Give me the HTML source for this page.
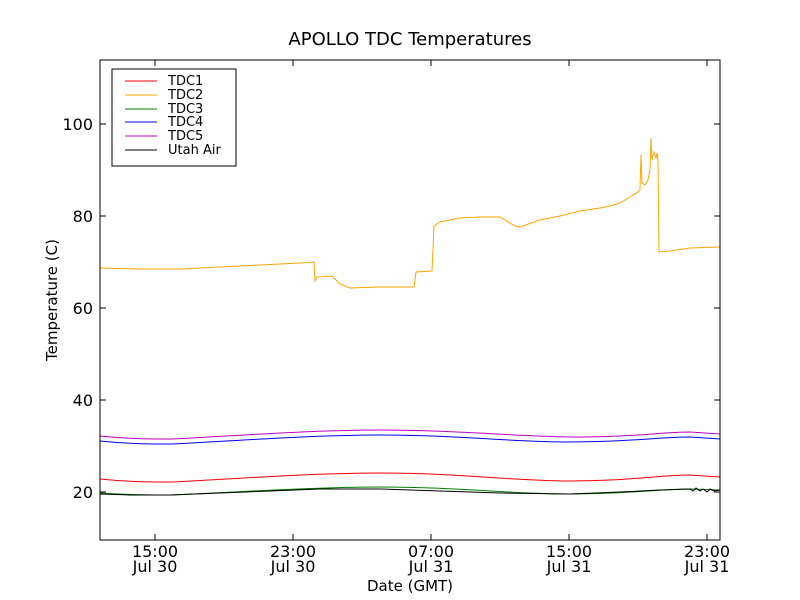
<!DOCTYPE html>
<html><head><style>body{margin:0;background:#fff}svg{display:block}text{font-family:"DejaVu Sans","Liberation Sans",sans-serif}</style></head>
<body>
<svg width="800" height="600" viewBox="0 0 800 600">
<rect width="800" height="600" fill="#fff"/>
<text x="410" y="45" font-size="18" text-anchor="middle">APOLLO TDC Temperatures</text>
<g fill="none" stroke-width="1">
<polyline stroke="#ffa500" points="100,268 140,269 180,269 220,267 260,265 300,263 314,262 315,281 317,277 332,276 340,284 350,288 380,287 414,287 416,272 432,271 434,226 440,222 460,218 480,217 500,217 505,220 515,226 520,227 540,220 560,216 580,211 600,208 610,206 620,203 630,197 638,192 640,190 641,155 642,183 645,185 648,180 650,170 651,138 652,160 654,152 656,158 657,153 658,160 659,252 670,251 690,248 720,247"/>
<path stroke="#bf00bf" d="M100,436 C130,439 150,439 170,439 S300,430 380,430 S520,437 580,437 S660,432 690,432 L720,434"/>
<path stroke="#0000ff" d="M100,441 C130,444 150,444 170,444 S300,435 380,435 S510,442 570,442 S660,437 690,437 L720,439"/>
<path stroke="#ff0000" d="M100,479 C130,482 150,482 170,482 S300,473 380,473 S510,481 570,481 S660,475 690,475 L720,477"/>
<path stroke="#008000" d="M100,493 C130,495 150,495 170,495 S300,487 380,487 S510,494 570,494 S660,489 690,489 L720,490"/>
<polyline stroke="#000" points="100,494 130,495 170,495 220,493 270,491 320,489 380,489 440,491 500,493 570,494 620,492 660,490 690,489 693,491 696,488 700,491 703,489 707,492 710,489 714,491 720,490"/>
</g>
<rect x="100" y="60" width="620" height="480" fill="none" stroke="#000"/>
<g stroke="#000">
<line x1="100" y1="492" x2="106" y2="492"/><line x1="720" y1="492" x2="714" y2="492"/>
<line x1="100" y1="400" x2="106" y2="400"/><line x1="720" y1="400" x2="714" y2="400"/>
<line x1="100" y1="308" x2="106" y2="308"/><line x1="720" y1="308" x2="714" y2="308"/>
<line x1="100" y1="216" x2="106" y2="216"/><line x1="720" y1="216" x2="714" y2="216"/>
<line x1="100" y1="124" x2="106" y2="124"/><line x1="720" y1="124" x2="714" y2="124"/>
<line x1="155" y1="540" x2="155" y2="534"/><line x1="155" y1="60" x2="155" y2="66"/>
<line x1="293" y1="540" x2="293" y2="534"/><line x1="293" y1="60" x2="293" y2="66"/>
<line x1="431" y1="540" x2="431" y2="534"/><line x1="431" y1="60" x2="431" y2="66"/>
<line x1="569" y1="540" x2="569" y2="534"/><line x1="569" y1="60" x2="569" y2="66"/>
<line x1="707" y1="540" x2="707" y2="534"/><line x1="707" y1="60" x2="707" y2="66"/>
</g>
<g font-size="16" text-anchor="end">
<text x="93" y="498">20</text><text x="93" y="406">40</text><text x="93" y="314">60</text><text x="93" y="222">80</text><text x="93" y="130">100</text>
</g>
<g font-size="16" text-anchor="middle">
<text x="155" y="557">15:00</text><text x="155" y="572">Jul 30</text>
<text x="293" y="557">23:00</text><text x="293" y="572">Jul 30</text>
<text x="431" y="557">07:00</text><text x="431" y="572">Jul 31</text>
<text x="569" y="557">15:00</text><text x="569" y="572">Jul 31</text>
<text x="707" y="557">23:00</text><text x="707" y="572">Jul 31</text>
</g>
<g font-size="15" text-anchor="middle">
<text x="410" y="591">Date (GMT)</text>
<text x="0" y="0" transform="translate(57,300) rotate(-90)">Temperature (C)</text>
</g>
<rect x="112" y="69" width="124" height="97" fill="#fff" stroke="#000"/>
<g stroke-width="1">
<line x1="125" y1="81" x2="157" y2="81" stroke="#ff0000"/>
<line x1="125" y1="95" x2="157" y2="95" stroke="#ffa500"/>
<line x1="125" y1="109" x2="157" y2="109" stroke="#008000"/>
<line x1="125" y1="122" x2="157" y2="122" stroke="#0000ff"/>
<line x1="125" y1="136" x2="157" y2="136" stroke="#bf00bf"/>
<line x1="125" y1="150" x2="157" y2="150" stroke="#000"/>
</g>
<g font-size="13">
<text x="168" y="85">TDC1</text><text x="168" y="99">TDC2</text><text x="168" y="113">TDC3</text><text x="168" y="126">TDC4</text><text x="168" y="140">TDC5</text><text x="168" y="154">Utah Air</text>
</g>
</svg>
</body></html>
